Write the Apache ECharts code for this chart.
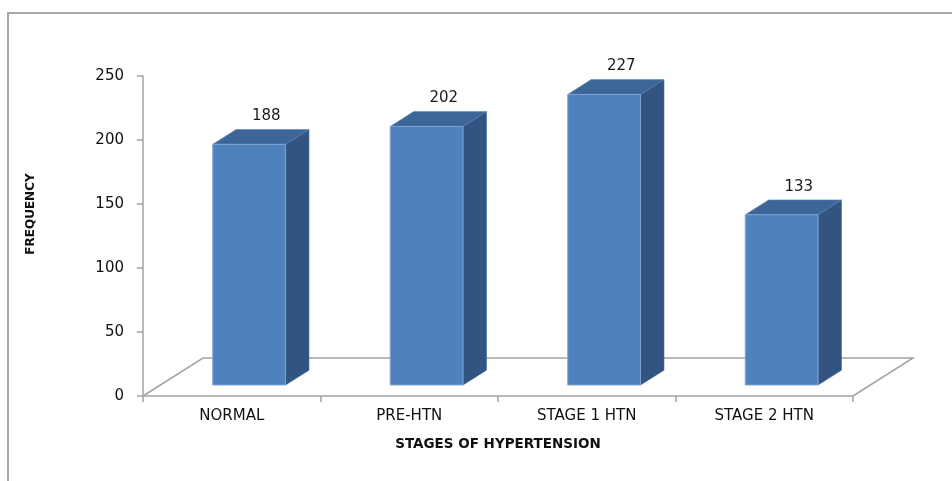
<!DOCTYPE html>
<html>
<head>
<meta charset="utf-8">
<script src="https://cdn.jsdelivr.net/npm/echarts@6/dist/echarts.min.js"></script>
<style>
  html, body { margin: 0; padding: 0; background: #fff; }
  #chart { width: 952px; height: 481px; }
</style>
</head>
<body>
<div id="chart"></div>
<script>
// Frequency of each hypertension stage
const categories = ['NORMAL', 'PRE-HTN', 'STAGE 1 HTN', 'STAGE 2 HTN'];
const frequencies = [188, 202, 227, 133];
const yAxisMin = 0;
const yAxisMax = 250;
const yAxisStep = 50;
const xAxisTitle = 'STAGES OF HYPERTENSION';
const yAxisTitle = 'FREQUENCY';

// Oblique projection of the floor depth (pixels) and where the bars sit in it
const DEPTH_X = 60, DEPTH_Y = 38;
const BAR_FRONT = 0.29, BAR_BACK = 0.68;
const BAR_RATIO = 0.41;
const FONT = '"DejaVu Sans", Verdana, sans-serif';
const GRID_LINE = '#a3a3a3';

const chart = echarts.init(document.getElementById('chart'), null, { renderer: 'canvas' });

function renderFloor(params) {
  const cs = params.coordSys;
  const x0 = cs.x, x1 = cs.x + cs.width, yb = cs.y + cs.height;
  return {
    type: 'polyline',
    shape: { points: [[x0, yb], [x0 + DEPTH_X, yb - DEPTH_Y], [x1 + DEPTH_X, yb - DEPTH_Y], [x1, yb]] },
    style: { stroke: GRID_LINE, lineWidth: 1.5, fill: null },
    silent: true
  };
}

function renderBar(params, api) {
  const idx = api.value(0);
  const val = api.value(1);
  const base = api.coord([idx, 0]);
  const top = api.coord([idx, val]);
  const catW = api.size([1, 0])[0];
  const w = catW * BAR_RATIO;
  const fx = DEPTH_X * BAR_FRONT, fy = DEPTH_Y * BAR_FRONT;
  const dx = DEPTH_X * (BAR_BACK - BAR_FRONT), dy = DEPTH_Y * (BAR_BACK - BAR_FRONT);
  const xl = base[0] + fx - w / 2, xr = base[0] + fx + w / 2;
  const yb = base[1] - fy, yt = top[1] - fy;
  return {
    type: 'group',
    children: [
      { type: 'polygon', shape: { points: [[xr, yb], [xr, yt], [xr + dx, yt - dy], [xr + dx, yb - dy]] },
        style: { fill: '#325481', stroke: '#3a5f8e', lineWidth: 0.6 } },
      { type: 'polygon', shape: { points: [[xl, yt], [xr, yt], [xr + dx, yt - dy], [xl + dx, yt - dy]] },
        style: { fill: '#3c6598', stroke: '#5d86ba', lineWidth: 0.6 } },
      { type: 'rect', shape: { x: xl, y: yt, width: w, height: yb - yt },
        style: { fill: '#4f81bd', stroke: '#7ea3d3', lineWidth: 1 } },
      { type: 'text',
        style: { text: String(val), x: (xl + xr) / 2 + dx / 2 + 5.5, y: yt - dy - 13,
                 align: 'center', verticalAlign: 'middle', textAlign: 'center', textVerticalAlign: 'middle',
                 font: '15px ' + FONT, fill: '#1a1a1a' } }
    ]
  };
}

chart.setOption({
  backgroundColor: '#ffffff',
  animation: false,
  grid: { left: 143, right: 99, top: 76, bottom: 85, containLabel: false },
  xAxis: {
    type: 'category',
    data: categories,
    boundaryGap: true,
    axisLine: { show: true, lineStyle: { color: GRID_LINE, width: 1.5 } },
    axisTick: { show: true, length: 6, lineStyle: { color: GRID_LINE, width: 1.5 } },
    axisLabel: { color: '#111', fontFamily: FONT, fontSize: 15, margin: 13 },
    name: xAxisTitle,
    nameLocation: 'middle',
    nameGap: 41,
    nameTextStyle: { color: '#111', fontFamily: FONT, fontWeight: 'bold', fontSize: 13.5 },
    splitLine: { show: false }
  },
  yAxis: {
    type: 'value',
    min: yAxisMin,
    max: yAxisMax,
    interval: yAxisStep,
    axisLine: { show: true, lineStyle: { color: GRID_LINE, width: 1.5 } },
    axisTick: { show: true, length: 6, lineStyle: { color: GRID_LINE, width: 1.5 } },
    axisLabel: { color: '#111', fontFamily: FONT, fontSize: 15, margin: 19 },
    splitLine: { show: false }
  },
  graphic: [
    { type: 'polyline', silent: true,
      shape: { points: [[8, 481], [8, 13], [952, 13]] },
      style: { stroke: '#a8a8a8', lineWidth: 2, fill: null } },
    { type: 'text', x: 31, y: 214, rotation: Math.PI / 2, silent: true,
      style: { text: yAxisTitle, font: 'bold 12px ' + FONT, fill: '#111',
               align: 'center', verticalAlign: 'middle' } }
  ],
  series: [
    { type: 'custom', name: 'floor', renderItem: renderFloor, data: [[0, 0]], silent: true, z: 1 },
    { type: 'custom', name: 'frequency', renderItem: renderBar,
      data: frequencies.map((v, i) => [i, v]), z: 2 }
  ]
});
</script>
</body>
</html>
